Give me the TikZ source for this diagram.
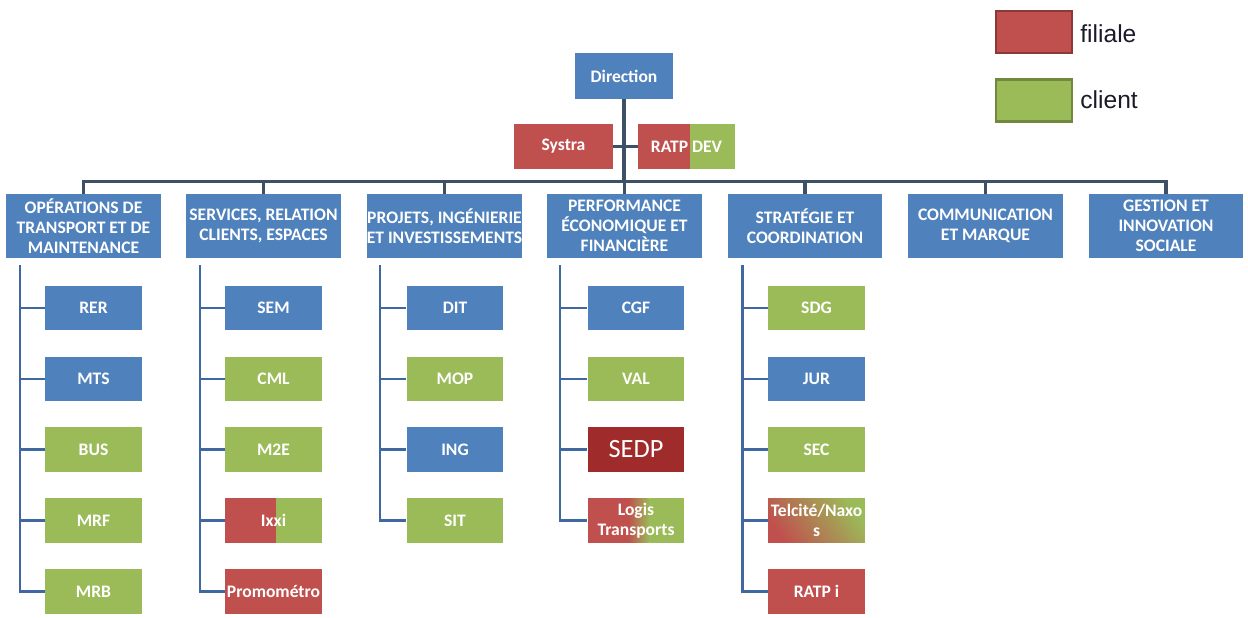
\documentclass[tikz,border=0pt]{standalone}
\usepackage{fontspec}
\setmainfont{Carlito}
\newfontfamily\arialfont{Liberation Sans}
\usetikzlibrary{calc}
\definecolor{cblue}{HTML}{4F81BD}
\definecolor{cgreen}{HTML}{9BBB59}
\definecolor{cred}{HTML}{C0504D}
\definecolor{cdred}{HTML}{A02B2B}
\definecolor{cbar}{HTML}{3E5065}
\definecolor{cline}{HTML}{3F67A0}
\definecolor{credb}{HTML}{8C3836}
\definecolor{cgreenb}{HTML}{71893F}
\definecolor{ctext}{HTML}{1A1A2A}
\begin{document}
\begin{tikzpicture}[x=0.02cm,y=-0.02cm,
  box/.style={inner sep=0pt, text=white, align=center,
    font=\fontsize{10}{11.5}\selectfont\bfseries},
  topbox/.style={box, fill=cblue, minimum width=3.1cm, minimum height=1.28cm},
  child/.style={box, minimum width=1.94cm, minimum height=0.9cm},
  bl/.style={child, fill=cblue},
  gr/.style={child, fill=cgreen},
  rd/.style={child, fill=cred},
  split/.style={path picture={
    \fill[cred] (path picture bounding box.north west) rectangle
      ($(path picture bounding box.south west)!#1!(path picture bounding box.south east)$);
    \fill[cgreen] ($(path picture bounding box.north west)!#1!(path picture bounding box.north east)$)
      rectangle (path picture bounding box.south east);}},
  softsplit/.style={path picture={
    \fill[cred] (path picture bounding box.north west) rectangle
      ($(path picture bounding box.south west)!0.42!(path picture bounding box.south east)$);
    \shade[left color=cred, right color=cgreen]
      ($(path picture bounding box.north west)!0.42!(path picture bounding box.north east)$)
      rectangle ($(path picture bounding box.south west)!0.64!(path picture bounding box.south east)$);
    \fill[cgreen] ($(path picture bounding box.north west)!0.64!(path picture bounding box.north east)$)
      rectangle (path picture bounding box.south east);}},
  bar/.style={draw=cbar, line width=2.2pt},
  branch/.style={draw=cline, line width=1.7pt},
  legbox/.style={line width=1.3pt, minimum width=1.52cm, minimum height=0.84cm, inner sep=0pt},
  legtext/.style={anchor=west, text=ctext, font=\arialfont\fontsize{14}{16}\selectfont, inner sep=0pt}
]
\useasboundingbox (0,0) rectangle (1248,618);

% legend
\node[legbox, draw=credb, fill=cred] (lr) at (1034,32) {};
\node[legtext] (lrt) at (1080,34) {filiale};
\node[legbox, draw=cgreenb, fill=cgreen] (lg) at (1034,100.5) {};
\node[legtext] (lgt) at (1080,100) {client};

% top
\node[box, fill=cblue, minimum width=1.96cm, minimum height=0.92cm] (dir) at (624,76) {Direction};
\node[box, fill=cred, minimum width=1.98cm, minimum height=0.9cm] (sys) at (563.5,146.5) {Systra};
\node[box, minimum width=1.94cm, minimum height=0.9cm, split=0.54] (dev) at (686.5,146.5) {RATP DEV};

% directions
\node[topbox] (t1) at (83.5,226) {OPÉRATIONS DE\\TRANSPORT ET DE\\MAINTENANCE};
\node[topbox] (t2) at (263.5,226) {SERVICES, RELATION\\CLIENTS, ESPACES};
\node[topbox] (t3) at (444.5,226) {PROJETS, INGÉNIERIE\\ET INVESTISSEMENTS};
\node[topbox] (t4) at (624.5,226) {PERFORMANCE\\ÉCONOMIQUE ET\\FINANCIÈRE};
\node[topbox] (t5) at (805,226) {STRATÉGIE ET\\COORDINATION};
\node[topbox] (t6) at (985.5,226) {COMMUNICATION\\ET MARQUE};
\node[topbox] (t7) at (1166,226) {GESTION ET\\INNOVATION\\SOCIALE};

\coordinate (barL) at (83.5,181.5);
\draw[bar] (dir.south) -- (dir.south |- barL);
\draw[bar] (sys.east) -- (dev.west);
\draw[bar] (t1.north) -- (t1.north |- barL) -- (t7.north |- barL) -- (t7.north);
\foreach \t in {t2,t3,t4,t5,t6} \draw[bar] (\t.north) -- (\t.north |- barL);

% column 1
\node[bl] (a1) at (93.5,308) {RER};
\node[bl] (a2) at (93.5,379) {MTS};
\node[gr] (a3) at (93.5,449.5) {BUS};
\node[gr] (a4) at (93.5,520.5) {MRF};
\node[gr] (a5) at (93.5,591.5) {MRB};
% column 2
\node[bl] (b1) at (273.5,308) {SEM};
\node[gr] (b2) at (273.5,379) {CML};
\node[gr] (b3) at (273.5,449.5) {M2E};
\node[child, split=0.53] (b4) at (273.5,520.5) {Ixxi};
\node[rd] (b5) at (273.5,591.5) {Promométro};
% column 3
\node[bl] (c1) at (455,308) {DIT};
\node[gr] (c2) at (455,379) {MOP};
\node[bl] (c3) at (455,449.5) {ING};
\node[gr] (c4) at (455,520.5) {SIT};
% column 4
\node[bl] (d1) at (636,308) {CGF};
\node[gr] (d2) at (636,379) {VAL};
\node[child, fill=cdred, font=\fontsize{15}{17}\selectfont] (d3) at (636,449.5) {SEDP};
\node[child, softsplit] (d4) at (636,520.5) {Logis\\Transports};
% column 5
\node[gr] (e1) at (816.5,308) {SDG};
\node[bl] (e2) at (816.5,379) {JUR};
\node[gr] (e3) at (816.5,449.5) {SEC};
\node[child, left color=cred, right color=cgreen, shading angle=125] (e4) at (816.5,520.5) {Telcité/Naxo\\s};
\node[rd] (e5) at (816.5,591.5) {RATP i};

% branches
\coordinate (la) at (20,0);
\coordinate (lb) at (200,0);
\coordinate (lc) at (380,0);
\coordinate (ld) at (560,0);
\coordinate (le) at (742,0);
\draw[branch] ([yshift=-4pt]t1.south -| la) |- (a5.west);
\foreach \n in {a1,a2,a3,a4} \draw[branch] (\n.west) -- (\n.west -| la);
\draw[branch] ([yshift=-4pt]t2.south -| lb) |- (b5.west);
\foreach \n in {b1,b2,b3,b4} \draw[branch] (\n.west) -- (\n.west -| lb);
\draw[branch] ([yshift=-4pt]t3.south -| lc) |- (c4.west);
\foreach \n in {c1,c2,c3} \draw[branch] (\n.west) -- (\n.west -| lc);
\draw[branch] ([yshift=-4pt]t4.south -| ld) |- (d4.west);
\foreach \n in {d1,d2,d3} \draw[branch] (\n.west) -- (\n.west -| ld);
\draw[branch] ([yshift=-4pt]t5.south -| le) |- (e5.west);
\foreach \n in {e1,e2,e3,e4} \draw[branch] (\n.west) -- (\n.west -| le);
\end{tikzpicture}
\end{document}
